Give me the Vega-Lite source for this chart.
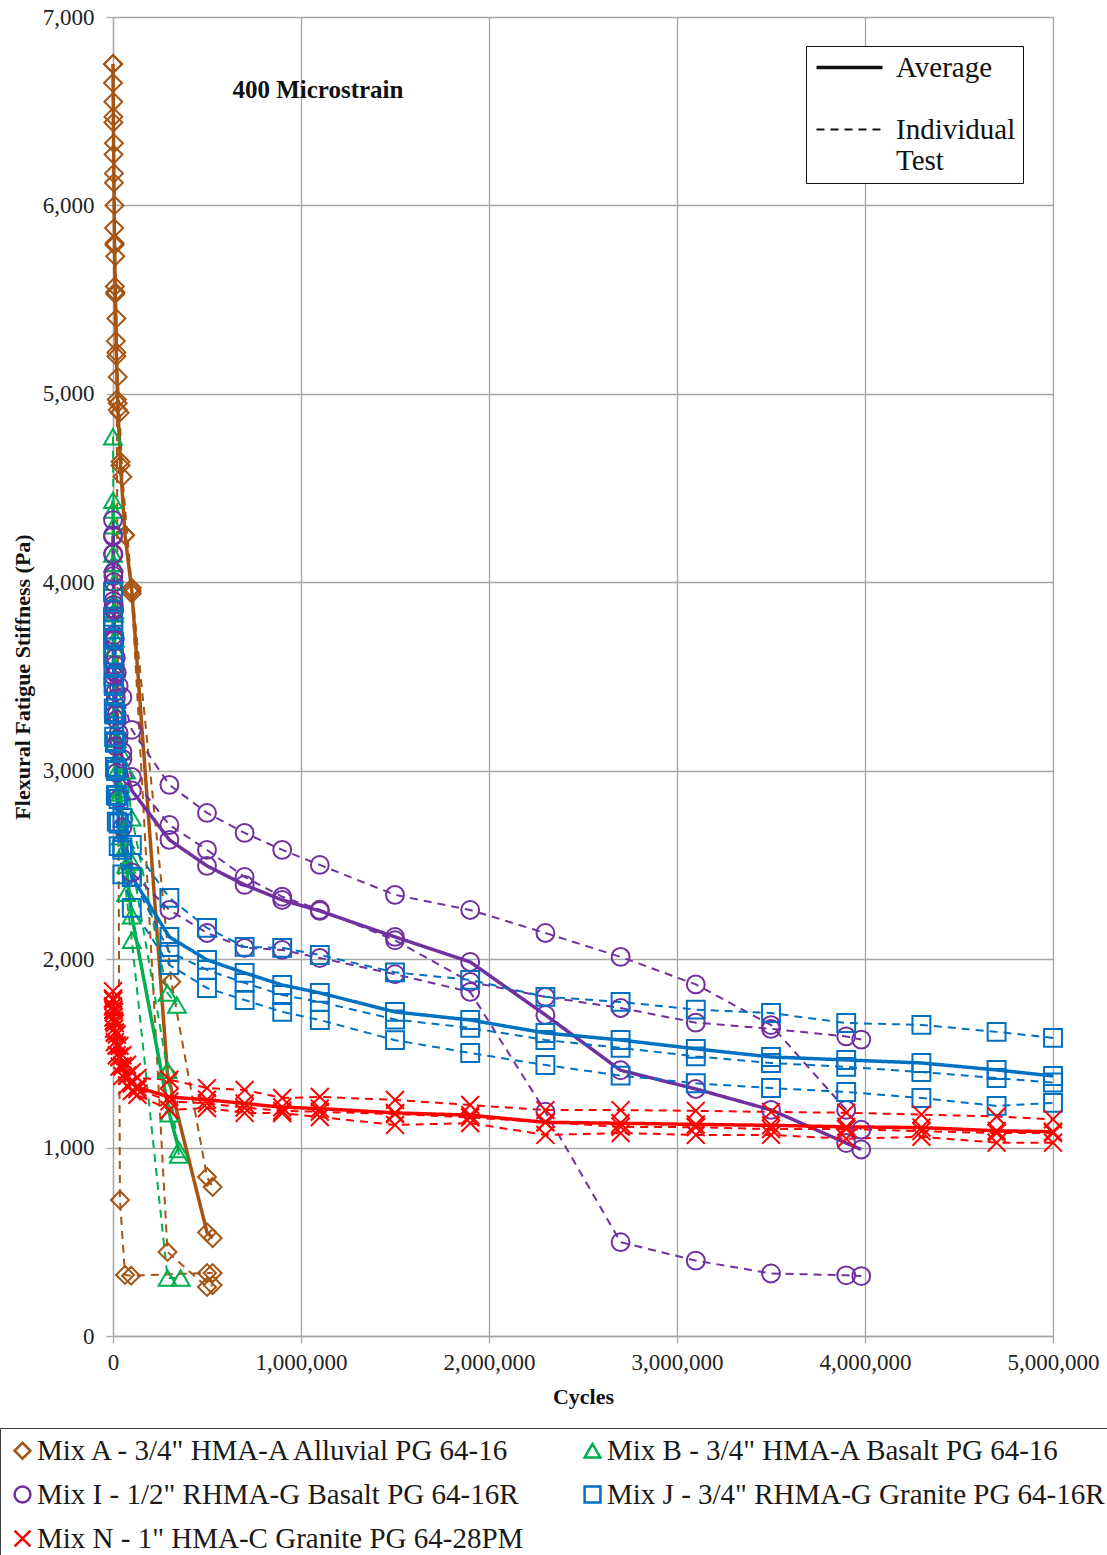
{
  "$schema": "https://vega.github.io/schema/vega-lite/v6.json",
  "width": 940,
  "height": 1319,
  "autosize": {"type": "none"},
  "padding": {"left": 113, "top": 17, "right": 54, "bottom": 219},
  "background": "white",
  "config": {
    "font": "Liberation Serif",
    "view": {"stroke": null},
    "axis": {
      "labelFont": "Liberation Serif",
      "titleFont": "Liberation Serif",
      "labelFontSize": 23,
      "labelColor": "#222222",
      "titleFontSize": 22,
      "titleFontWeight": "bold",
      "titleColor": "#111111",
      "grid": true,
      "gridColor": "#a6a6a6",
      "gridWidth": 1.3,
      "domainColor": "#a6a6a6",
      "domainWidth": 1.3,
      "tickColor": "#a6a6a6",
      "tickWidth": 1.3,
      "tickSize": 7
    },
    "legend": {"labelFont": "Liberation Serif"}
  },
  "datasets": {
    "d": [
      {"mix":"A","ser":"A1","type":"ind","x":0,"y":6650},
      {"mix":"A","ser":"A1","type":"ind","x":3000,"y":6270},
      {"mix":"A","ser":"A1","type":"ind","x":6000,"y":5880},
      {"mix":"A","ser":"A1","type":"ind","x":10000,"y":5570},
      {"mix":"A","ser":"A1","type":"ind","x":15000,"y":5280},
      {"mix":"A","ser":"A1","type":"ind","x":20000,"y":4970},
      {"mix":"A","ser":"A1","type":"ind","x":37000,"y":722},
      {"mix":"A","ser":"A1","type":"ind","x":64000,"y":324},
      {"mix":"A","ser":"A1","type":"ind","x":96000,"y":320},
      {"mix":"A","ser":"A1","type":"ind","x":500000,"y":334},
      {"mix":"A","ser":"A1","type":"ind","x":530000,"y":334},

      {"mix":"A","ser":"A2","type":"ind","x":0,"y":6750},
      {"mix":"A","ser":"A2","type":"ind","x":2000,"y":6470},
      {"mix":"A","ser":"A2","type":"ind","x":5000,"y":6170},
      {"mix":"A","ser":"A2","type":"ind","x":8000,"y":5790},
      {"mix":"A","ser":"A2","type":"ind","x":12000,"y":5530},
      {"mix":"A","ser":"A2","type":"ind","x":18000,"y":5200},
      {"mix":"A","ser":"A2","type":"ind","x":25000,"y":4915},
      {"mix":"A","ser":"A2","type":"ind","x":40000,"y":4640},
      {"mix":"A","ser":"A2","type":"ind","x":64000,"y":4250},
      {"mix":"A","ser":"A2","type":"ind","x":100000,"y":3940},
      {"mix":"A","ser":"A2","type":"ind","x":290000,"y":446},
      {"mix":"A","ser":"A2","type":"ind","x":500000,"y":260},
      {"mix":"A","ser":"A2","type":"ind","x":530000,"y":270},

      {"mix":"A","ser":"A3","type":"ind","x":0,"y":6750},
      {"mix":"A","ser":"A3","type":"ind","x":2000,"y":6550},
      {"mix":"A","ser":"A3","type":"ind","x":5000,"y":6330},
      {"mix":"A","ser":"A3","type":"ind","x":8000,"y":6000},
      {"mix":"A","ser":"A3","type":"ind","x":12000,"y":5730},
      {"mix":"A","ser":"A3","type":"ind","x":18000,"y":5400},
      {"mix":"A","ser":"A3","type":"ind","x":25000,"y":5090},
      {"mix":"A","ser":"A3","type":"ind","x":35000,"y":4900},
      {"mix":"A","ser":"A3","type":"ind","x":50000,"y":4560},
      {"mix":"A","ser":"A3","type":"ind","x":100000,"y":3970},
      {"mix":"A","ser":"A3","type":"ind","x":310000,"y":1880},
      {"mix":"A","ser":"A3","type":"ind","x":500000,"y":844},
      {"mix":"A","ser":"A3","type":"ind","x":530000,"y":791},

      {"mix":"A","ser":"Aavg","type":"avg","x":0,"y":6750},
      {"mix":"A","ser":"Aavg","type":"avg","x":2000,"y":6440},
      {"mix":"A","ser":"Aavg","type":"avg","x":5000,"y":6120},
      {"mix":"A","ser":"Aavg","type":"avg","x":8000,"y":5800},
      {"mix":"A","ser":"Aavg","type":"avg","x":12000,"y":5540},
      {"mix":"A","ser":"Aavg","type":"avg","x":18000,"y":5220},
      {"mix":"A","ser":"Aavg","type":"avg","x":25000,"y":4950},
      {"mix":"A","ser":"Aavg","type":"avg","x":40000,"y":4620},
      {"mix":"A","ser":"Aavg","type":"avg","x":64000,"y":4250},
      {"mix":"A","ser":"Aavg","type":"avg","x":100000,"y":3955},
      {"mix":"A","ser":"Aavg","type":"avg","x":290000,"y":1390},
      {"mix":"A","ser":"Aavg","type":"avg","x":500000,"y":550},
      {"mix":"A","ser":"Aavg","type":"avg","x":530000,"y":520},

      {"mix":"B","ser":"B1","type":"ind","x":0,"y":4772},
      {"mix":"B","ser":"B1","type":"ind","x":3000,"y":4300},
      {"mix":"B","ser":"B1","type":"ind","x":6000,"y":4000},
      {"mix":"B","ser":"B1","type":"ind","x":10000,"y":3700},
      {"mix":"B","ser":"B1","type":"ind","x":20000,"y":3300},
      {"mix":"B","ser":"B1","type":"ind","x":40000,"y":3100},
      {"mix":"B","ser":"B1","type":"ind","x":70000,"y":3000},
      {"mix":"B","ser":"B1","type":"ind","x":100000,"y":2750},
      {"mix":"B","ser":"B1","type":"ind","x":290000,"y":1820},
      {"mix":"B","ser":"B1","type":"ind","x":340000,"y":1757},

      {"mix":"B","ser":"B2","type":"ind","x":0,"y":4384},
      {"mix":"B","ser":"B2","type":"ind","x":3000,"y":4100},
      {"mix":"B","ser":"B2","type":"ind","x":6000,"y":3850},
      {"mix":"B","ser":"B2","type":"ind","x":10000,"y":3550},
      {"mix":"B","ser":"B2","type":"ind","x":20000,"y":3200},
      {"mix":"B","ser":"B2","type":"ind","x":40000,"y":2900},
      {"mix":"B","ser":"B2","type":"ind","x":70000,"y":2600},
      {"mix":"B","ser":"B2","type":"ind","x":100000,"y":2516},
      {"mix":"B","ser":"B2","type":"ind","x":290000,"y":1410},
      {"mix":"B","ser":"B2","type":"ind","x":350000,"y":961},

      {"mix":"B","ser":"B3","type":"ind","x":0,"y":4150},
      {"mix":"B","ser":"B3","type":"ind","x":3000,"y":3900},
      {"mix":"B","ser":"B3","type":"ind","x":6000,"y":3650},
      {"mix":"B","ser":"B3","type":"ind","x":10000,"y":3400},
      {"mix":"B","ser":"B3","type":"ind","x":20000,"y":3000},
      {"mix":"B","ser":"B3","type":"ind","x":40000,"y":2650},
      {"mix":"B","ser":"B3","type":"ind","x":70000,"y":2350},
      {"mix":"B","ser":"B3","type":"ind","x":100000,"y":2100},
      {"mix":"B","ser":"B3","type":"ind","x":290000,"y":308},
      {"mix":"B","ser":"B3","type":"ind","x":360000,"y":308},

      {"mix":"B","ser":"Bavg","type":"avg","x":0,"y":4435},
      {"mix":"B","ser":"Bavg","type":"avg","x":3000,"y":4100},
      {"mix":"B","ser":"Bavg","type":"avg","x":6000,"y":3833},
      {"mix":"B","ser":"Bavg","type":"avg","x":10000,"y":3550},
      {"mix":"B","ser":"Bavg","type":"avg","x":20000,"y":3167},
      {"mix":"B","ser":"Bavg","type":"avg","x":40000,"y":2883},
      {"mix":"B","ser":"Bavg","type":"avg","x":70000,"y":2500},
      {"mix":"B","ser":"Bavg","type":"avg","x":100000,"y":2230},
      {"mix":"B","ser":"Bavg","type":"avg","x":300000,"y":1180},
      {"mix":"B","ser":"Bavg","type":"avg","x":350000,"y":990},

      {"mix":"I","ser":"I1","type":"ind","x":0,"y":4330},
      {"mix":"I","ser":"I1","type":"ind","x":2000,"y":4150},
      {"mix":"I","ser":"I1","type":"ind","x":4000,"y":4000},
      {"mix":"I","ser":"I1","type":"ind","x":6000,"y":3850},
      {"mix":"I","ser":"I1","type":"ind","x":10000,"y":3700},
      {"mix":"I","ser":"I1","type":"ind","x":15000,"y":3600},
      {"mix":"I","ser":"I1","type":"ind","x":20000,"y":3520},
      {"mix":"I","ser":"I1","type":"ind","x":30000,"y":3450},
      {"mix":"I","ser":"I1","type":"ind","x":50000,"y":3390},
      {"mix":"I","ser":"I1","type":"ind","x":100000,"y":3217},
      {"mix":"I","ser":"I1","type":"ind","x":300000,"y":2925},
      {"mix":"I","ser":"I1","type":"ind","x":500000,"y":2776},
      {"mix":"I","ser":"I1","type":"ind","x":700000,"y":2670},
      {"mix":"I","ser":"I1","type":"ind","x":900000,"y":2580},
      {"mix":"I","ser":"I1","type":"ind","x":1100000,"y":2500},
      {"mix":"I","ser":"I1","type":"ind","x":1500000,"y":2341},
      {"mix":"I","ser":"I1","type":"ind","x":1900000,"y":2261},
      {"mix":"I","ser":"I1","type":"ind","x":2300000,"y":2139},
      {"mix":"I","ser":"I1","type":"ind","x":2700000,"y":2012},
      {"mix":"I","ser":"I1","type":"ind","x":3100000,"y":1866},
      {"mix":"I","ser":"I1","type":"ind","x":3500000,"y":1650},
      {"mix":"I","ser":"I1","type":"ind","x":3900000,"y":1200},
      {"mix":"I","ser":"I1","type":"ind","x":3980000,"y":1095},

      {"mix":"I","ser":"I2","type":"ind","x":0,"y":4250},
      {"mix":"I","ser":"I2","type":"ind","x":2000,"y":4050},
      {"mix":"I","ser":"I2","type":"ind","x":4000,"y":3880},
      {"mix":"I","ser":"I2","type":"ind","x":6000,"y":3720},
      {"mix":"I","ser":"I2","type":"ind","x":10000,"y":3560},
      {"mix":"I","ser":"I2","type":"ind","x":15000,"y":3420},
      {"mix":"I","ser":"I2","type":"ind","x":20000,"y":3300},
      {"mix":"I","ser":"I2","type":"ind","x":30000,"y":3200},
      {"mix":"I","ser":"I2","type":"ind","x":50000,"y":3100},
      {"mix":"I","ser":"I2","type":"ind","x":100000,"y":2967},
      {"mix":"I","ser":"I2","type":"ind","x":300000,"y":2712},
      {"mix":"I","ser":"I2","type":"ind","x":500000,"y":2580},
      {"mix":"I","ser":"I2","type":"ind","x":700000,"y":2436},
      {"mix":"I","ser":"I2","type":"ind","x":900000,"y":2331},
      {"mix":"I","ser":"I2","type":"ind","x":1100000,"y":2262},
      {"mix":"I","ser":"I2","type":"ind","x":1500000,"y":2100},
      {"mix":"I","ser":"I2","type":"ind","x":1900000,"y":1879},
      {"mix":"I","ser":"I2","type":"ind","x":2300000,"y":1800},
      {"mix":"I","ser":"I2","type":"ind","x":2700000,"y":1741},
      {"mix":"I","ser":"I2","type":"ind","x":3100000,"y":1663},
      {"mix":"I","ser":"I2","type":"ind","x":3500000,"y":1630},
      {"mix":"I","ser":"I2","type":"ind","x":3900000,"y":1590},
      {"mix":"I","ser":"I2","type":"ind","x":3980000,"y":1573},

      {"mix":"I","ser":"I3","type":"ind","x":0,"y":4150},
      {"mix":"I","ser":"I3","type":"ind","x":2000,"y":3900},
      {"mix":"I","ser":"I3","type":"ind","x":4000,"y":3700},
      {"mix":"I","ser":"I3","type":"ind","x":6000,"y":3500},
      {"mix":"I","ser":"I3","type":"ind","x":10000,"y":3300},
      {"mix":"I","ser":"I3","type":"ind","x":15000,"y":3130},
      {"mix":"I","ser":"I3","type":"ind","x":20000,"y":2990},
      {"mix":"I","ser":"I3","type":"ind","x":30000,"y":2850},
      {"mix":"I","ser":"I3","type":"ind","x":50000,"y":2700},
      {"mix":"I","ser":"I3","type":"ind","x":100000,"y":2460},
      {"mix":"I","ser":"I3","type":"ind","x":300000,"y":2261},
      {"mix":"I","ser":"I3","type":"ind","x":500000,"y":2139},
      {"mix":"I","ser":"I3","type":"ind","x":700000,"y":2060},
      {"mix":"I","ser":"I3","type":"ind","x":900000,"y":2049},
      {"mix":"I","ser":"I3","type":"ind","x":1100000,"y":2006},
      {"mix":"I","ser":"I3","type":"ind","x":1500000,"y":1920},
      {"mix":"I","ser":"I3","type":"ind","x":1900000,"y":1826},
      {"mix":"I","ser":"I3","type":"ind","x":2300000,"y":1190},
      {"mix":"I","ser":"I3","type":"ind","x":2700000,"y":498},
      {"mix":"I","ser":"I3","type":"ind","x":3100000,"y":400},
      {"mix":"I","ser":"I3","type":"ind","x":3500000,"y":332},
      {"mix":"I","ser":"I3","type":"ind","x":3900000,"y":322},
      {"mix":"I","ser":"I3","type":"ind","x":3980000,"y":318},

      {"mix":"I","ser":"Iavg","type":"avg","x":0,"y":4243},
      {"mix":"I","ser":"Iavg","type":"avg","x":2000,"y":4033},
      {"mix":"I","ser":"Iavg","type":"avg","x":4000,"y":3860},
      {"mix":"I","ser":"Iavg","type":"avg","x":6000,"y":3690},
      {"mix":"I","ser":"Iavg","type":"avg","x":10000,"y":3520},
      {"mix":"I","ser":"Iavg","type":"avg","x":15000,"y":3383},
      {"mix":"I","ser":"Iavg","type":"avg","x":20000,"y":3270},
      {"mix":"I","ser":"Iavg","type":"avg","x":30000,"y":3167},
      {"mix":"I","ser":"Iavg","type":"avg","x":50000,"y":3063},
      {"mix":"I","ser":"Iavg","type":"avg","x":100000,"y":2895},
      {"mix":"I","ser":"Iavg","type":"avg","x":300000,"y":2633},
      {"mix":"I","ser":"Iavg","type":"avg","x":500000,"y":2495},
      {"mix":"I","ser":"Iavg","type":"avg","x":700000,"y":2394},
      {"mix":"I","ser":"Iavg","type":"avg","x":900000,"y":2314},
      {"mix":"I","ser":"Iavg","type":"avg","x":1100000,"y":2256},
      {"mix":"I","ser":"Iavg","type":"avg","x":1500000,"y":2118},
      {"mix":"I","ser":"Iavg","type":"avg","x":1900000,"y":1985},
      {"mix":"I","ser":"Iavg","type":"avg","x":2300000,"y":1704},
      {"mix":"I","ser":"Iavg","type":"avg","x":2700000,"y":1410},
      {"mix":"I","ser":"Iavg","type":"avg","x":3100000,"y":1311},
      {"mix":"I","ser":"Iavg","type":"avg","x":3500000,"y":1200},
      {"mix":"I","ser":"Iavg","type":"avg","x":3900000,"y":1024},
      {"mix":"I","ser":"Iavg","type":"avg","x":3980000,"y":990},

      {"mix":"J","ser":"J1","type":"ind","x":0,"y":3950},
      {"mix":"J","ser":"J1","type":"ind","x":2000,"y":3750},
      {"mix":"J","ser":"J1","type":"ind","x":4000,"y":3600},
      {"mix":"J","ser":"J1","type":"ind","x":6000,"y":3450},
      {"mix":"J","ser":"J1","type":"ind","x":10000,"y":3300},
      {"mix":"J","ser":"J1","type":"ind","x":15000,"y":3150},
      {"mix":"J","ser":"J1","type":"ind","x":20000,"y":3000},
      {"mix":"J","ser":"J1","type":"ind","x":30000,"y":2850},
      {"mix":"J","ser":"J1","type":"ind","x":50000,"y":2750},
      {"mix":"J","ser":"J1","type":"ind","x":100000,"y":2606},
      {"mix":"J","ser":"J1","type":"ind","x":300000,"y":2325},
      {"mix":"J","ser":"J1","type":"ind","x":500000,"y":2166},
      {"mix":"J","ser":"J1","type":"ind","x":700000,"y":2065},
      {"mix":"J","ser":"J1","type":"ind","x":900000,"y":2060},
      {"mix":"J","ser":"J1","type":"ind","x":1100000,"y":2022},
      {"mix":"J","ser":"J1","type":"ind","x":1500000,"y":1930},
      {"mix":"J","ser":"J1","type":"ind","x":1900000,"y":1890},
      {"mix":"J","ser":"J1","type":"ind","x":2300000,"y":1800},
      {"mix":"J","ser":"J1","type":"ind","x":2700000,"y":1773},
      {"mix":"J","ser":"J1","type":"ind","x":3100000,"y":1732},
      {"mix":"J","ser":"J1","type":"ind","x":3500000,"y":1714},
      {"mix":"J","ser":"J1","type":"ind","x":3900000,"y":1661},
      {"mix":"J","ser":"J1","type":"ind","x":4300000,"y":1651},
      {"mix":"J","ser":"J1","type":"ind","x":4700000,"y":1614},
      {"mix":"J","ser":"J1","type":"ind","x":5000000,"y":1582},

      {"mix":"J","ser":"J2","type":"ind","x":0,"y":3800},
      {"mix":"J","ser":"J2","type":"ind","x":2000,"y":3600},
      {"mix":"J","ser":"J2","type":"ind","x":4000,"y":3450},
      {"mix":"J","ser":"J2","type":"ind","x":6000,"y":3300},
      {"mix":"J","ser":"J2","type":"ind","x":10000,"y":3150},
      {"mix":"J","ser":"J2","type":"ind","x":15000,"y":3000},
      {"mix":"J","ser":"J2","type":"ind","x":20000,"y":2870},
      {"mix":"J","ser":"J2","type":"ind","x":30000,"y":2720},
      {"mix":"J","ser":"J2","type":"ind","x":50000,"y":2580},
      {"mix":"J","ser":"J2","type":"ind","x":100000,"y":2436},
      {"mix":"J","ser":"J2","type":"ind","x":300000,"y":2038},
      {"mix":"J","ser":"J2","type":"ind","x":500000,"y":1943},
      {"mix":"J","ser":"J2","type":"ind","x":700000,"y":1874},
      {"mix":"J","ser":"J2","type":"ind","x":900000,"y":1810},
      {"mix":"J","ser":"J2","type":"ind","x":1100000,"y":1773},
      {"mix":"J","ser":"J2","type":"ind","x":1500000,"y":1680},
      {"mix":"J","ser":"J2","type":"ind","x":1900000,"y":1635},
      {"mix":"J","ser":"J2","type":"ind","x":2300000,"y":1571},
      {"mix":"J","ser":"J2","type":"ind","x":2700000,"y":1529},
      {"mix":"J","ser":"J2","type":"ind","x":3100000,"y":1484},
      {"mix":"J","ser":"J2","type":"ind","x":3500000,"y":1449},
      {"mix":"J","ser":"J2","type":"ind","x":3900000,"y":1428},
      {"mix":"J","ser":"J2","type":"ind","x":4300000,"y":1401},
      {"mix":"J","ser":"J2","type":"ind","x":4700000,"y":1369},
      {"mix":"J","ser":"J2","type":"ind","x":5000000,"y":1345},

      {"mix":"J","ser":"J3","type":"ind","x":0,"y":3700},
      {"mix":"J","ser":"J3","type":"ind","x":2000,"y":3500},
      {"mix":"J","ser":"J3","type":"ind","x":4000,"y":3330},
      {"mix":"J","ser":"J3","type":"ind","x":6000,"y":3180},
      {"mix":"J","ser":"J3","type":"ind","x":10000,"y":3020},
      {"mix":"J","ser":"J3","type":"ind","x":15000,"y":2870},
      {"mix":"J","ser":"J3","type":"ind","x":20000,"y":2730},
      {"mix":"J","ser":"J3","type":"ind","x":30000,"y":2600},
      {"mix":"J","ser":"J3","type":"ind","x":50000,"y":2450},
      {"mix":"J","ser":"J3","type":"ind","x":100000,"y":2272},
      {"mix":"J","ser":"J3","type":"ind","x":300000,"y":1969},
      {"mix":"J","ser":"J3","type":"ind","x":500000,"y":1847},
      {"mix":"J","ser":"J3","type":"ind","x":700000,"y":1783},
      {"mix":"J","ser":"J3","type":"ind","x":900000,"y":1720},
      {"mix":"J","ser":"J3","type":"ind","x":1100000,"y":1677},
      {"mix":"J","ser":"J3","type":"ind","x":1500000,"y":1570},
      {"mix":"J","ser":"J3","type":"ind","x":1900000,"y":1502},
      {"mix":"J","ser":"J3","type":"ind","x":2300000,"y":1438},
      {"mix":"J","ser":"J3","type":"ind","x":2700000,"y":1382},
      {"mix":"J","ser":"J3","type":"ind","x":3100000,"y":1341},
      {"mix":"J","ser":"J3","type":"ind","x":3500000,"y":1316},
      {"mix":"J","ser":"J3","type":"ind","x":3900000,"y":1295},
      {"mix":"J","ser":"J3","type":"ind","x":4300000,"y":1263},
      {"mix":"J","ser":"J3","type":"ind","x":4700000,"y":1221},
      {"mix":"J","ser":"J3","type":"ind","x":5000000,"y":1237},

      {"mix":"J","ser":"Javg","type":"avg","x":0,"y":3817},
      {"mix":"J","ser":"Javg","type":"avg","x":2000,"y":3617},
      {"mix":"J","ser":"Javg","type":"avg","x":4000,"y":3460},
      {"mix":"J","ser":"Javg","type":"avg","x":6000,"y":3310},
      {"mix":"J","ser":"Javg","type":"avg","x":10000,"y":3157},
      {"mix":"J","ser":"Javg","type":"avg","x":15000,"y":3007},
      {"mix":"J","ser":"Javg","type":"avg","x":20000,"y":2867},
      {"mix":"J","ser":"Javg","type":"avg","x":30000,"y":2723},
      {"mix":"J","ser":"Javg","type":"avg","x":50000,"y":2593},
      {"mix":"J","ser":"Javg","type":"avg","x":100000,"y":2438},
      {"mix":"J","ser":"Javg","type":"avg","x":300000,"y":2118},
      {"mix":"J","ser":"Javg","type":"avg","x":500000,"y":1996},
      {"mix":"J","ser":"Javg","type":"avg","x":700000,"y":1927},
      {"mix":"J","ser":"Javg","type":"avg","x":900000,"y":1863},
      {"mix":"J","ser":"Javg","type":"avg","x":1100000,"y":1821},
      {"mix":"J","ser":"Javg","type":"avg","x":1500000,"y":1720},
      {"mix":"J","ser":"Javg","type":"avg","x":1900000,"y":1677},
      {"mix":"J","ser":"Javg","type":"avg","x":2300000,"y":1608},
      {"mix":"J","ser":"Javg","type":"avg","x":2700000,"y":1571},
      {"mix":"J","ser":"Javg","type":"avg","x":3100000,"y":1524},
      {"mix":"J","ser":"Javg","type":"avg","x":3500000,"y":1481},
      {"mix":"J","ser":"Javg","type":"avg","x":3900000,"y":1465},
      {"mix":"J","ser":"Javg","type":"avg","x":4300000,"y":1449},
      {"mix":"J","ser":"Javg","type":"avg","x":4700000,"y":1412},
      {"mix":"J","ser":"Javg","type":"avg","x":5000000,"y":1380},

      {"mix":"N","ser":"N1","type":"ind","x":0,"y":1830},
      {"mix":"N","ser":"N1","type":"ind","x":2000,"y":1780},
      {"mix":"N","ser":"N1","type":"ind","x":5000,"y":1720},
      {"mix":"N","ser":"N1","type":"ind","x":10000,"y":1660},
      {"mix":"N","ser":"N1","type":"ind","x":20000,"y":1600},
      {"mix":"N","ser":"N1","type":"ind","x":35000,"y":1540},
      {"mix":"N","ser":"N1","type":"ind","x":50000,"y":1490},
      {"mix":"N","ser":"N1","type":"ind","x":75000,"y":1440},
      {"mix":"N","ser":"N1","type":"ind","x":100000,"y":1400},
      {"mix":"N","ser":"N1","type":"ind","x":130000,"y":1370},
      {"mix":"N","ser":"N1","type":"ind","x":300000,"y":1360},
      {"mix":"N","ser":"N1","type":"ind","x":500000,"y":1316},
      {"mix":"N","ser":"N1","type":"ind","x":700000,"y":1306},
      {"mix":"N","ser":"N1","type":"ind","x":900000,"y":1263},
      {"mix":"N","ser":"N1","type":"ind","x":1100000,"y":1269},
      {"mix":"N","ser":"N1","type":"ind","x":1500000,"y":1253},
      {"mix":"N","ser":"N1","type":"ind","x":1900000,"y":1226},
      {"mix":"N","ser":"N1","type":"ind","x":2300000,"y":1199},
      {"mix":"N","ser":"N1","type":"ind","x":2700000,"y":1199},
      {"mix":"N","ser":"N1","type":"ind","x":3100000,"y":1195},
      {"mix":"N","ser":"N1","type":"ind","x":3500000,"y":1189},
      {"mix":"N","ser":"N1","type":"ind","x":3900000,"y":1185},
      {"mix":"N","ser":"N1","type":"ind","x":4300000,"y":1175},
      {"mix":"N","ser":"N1","type":"ind","x":4700000,"y":1165},
      {"mix":"N","ser":"N1","type":"ind","x":5000000,"y":1150},

      {"mix":"N","ser":"N2","type":"ind","x":0,"y":1790},
      {"mix":"N","ser":"N2","type":"ind","x":2000,"y":1730},
      {"mix":"N","ser":"N2","type":"ind","x":5000,"y":1670},
      {"mix":"N","ser":"N2","type":"ind","x":10000,"y":1610},
      {"mix":"N","ser":"N2","type":"ind","x":20000,"y":1540},
      {"mix":"N","ser":"N2","type":"ind","x":35000,"y":1480},
      {"mix":"N","ser":"N2","type":"ind","x":50000,"y":1430},
      {"mix":"N","ser":"N2","type":"ind","x":75000,"y":1380},
      {"mix":"N","ser":"N2","type":"ind","x":100000,"y":1340},
      {"mix":"N","ser":"N2","type":"ind","x":130000,"y":1310},
      {"mix":"N","ser":"N2","type":"ind","x":300000,"y":1245},
      {"mix":"N","ser":"N2","type":"ind","x":500000,"y":1235},
      {"mix":"N","ser":"N2","type":"ind","x":700000,"y":1212},
      {"mix":"N","ser":"N2","type":"ind","x":900000,"y":1195},
      {"mix":"N","ser":"N2","type":"ind","x":1100000,"y":1190},
      {"mix":"N","ser":"N2","type":"ind","x":1500000,"y":1178},
      {"mix":"N","ser":"N2","type":"ind","x":1900000,"y":1160},
      {"mix":"N","ser":"N2","type":"ind","x":2300000,"y":1135},
      {"mix":"N","ser":"N2","type":"ind","x":2700000,"y":1110},
      {"mix":"N","ser":"N2","type":"ind","x":3100000,"y":1108},
      {"mix":"N","ser":"N2","type":"ind","x":3500000,"y":1098},
      {"mix":"N","ser":"N2","type":"ind","x":3900000,"y":1098},
      {"mix":"N","ser":"N2","type":"ind","x":4300000,"y":1087},
      {"mix":"N","ser":"N2","type":"ind","x":4700000,"y":1077},
      {"mix":"N","ser":"N2","type":"ind","x":5000000,"y":1077},

      {"mix":"N","ser":"N3","type":"ind","x":0,"y":1750},
      {"mix":"N","ser":"N3","type":"ind","x":2000,"y":1690},
      {"mix":"N","ser":"N3","type":"ind","x":5000,"y":1630},
      {"mix":"N","ser":"N3","type":"ind","x":10000,"y":1560},
      {"mix":"N","ser":"N3","type":"ind","x":20000,"y":1490},
      {"mix":"N","ser":"N3","type":"ind","x":35000,"y":1430},
      {"mix":"N","ser":"N3","type":"ind","x":50000,"y":1380},
      {"mix":"N","ser":"N3","type":"ind","x":75000,"y":1330},
      {"mix":"N","ser":"N3","type":"ind","x":100000,"y":1300},
      {"mix":"N","ser":"N3","type":"ind","x":130000,"y":1280},
      {"mix":"N","ser":"N3","type":"ind","x":300000,"y":1200},
      {"mix":"N","ser":"N3","type":"ind","x":500000,"y":1210},
      {"mix":"N","ser":"N3","type":"ind","x":700000,"y":1184},
      {"mix":"N","ser":"N3","type":"ind","x":900000,"y":1183},
      {"mix":"N","ser":"N3","type":"ind","x":1100000,"y":1162},
      {"mix":"N","ser":"N3","type":"ind","x":1500000,"y":1120},
      {"mix":"N","ser":"N3","type":"ind","x":1900000,"y":1130},
      {"mix":"N","ser":"N3","type":"ind","x":2300000,"y":1067},
      {"mix":"N","ser":"N3","type":"ind","x":2700000,"y":1077},
      {"mix":"N","ser":"N3","type":"ind","x":3100000,"y":1067},
      {"mix":"N","ser":"N3","type":"ind","x":3500000,"y":1067},
      {"mix":"N","ser":"N3","type":"ind","x":3900000,"y":1047},
      {"mix":"N","ser":"N3","type":"ind","x":4300000,"y":1057},
      {"mix":"N","ser":"N3","type":"ind","x":4700000,"y":1026},
      {"mix":"N","ser":"N3","type":"ind","x":5000000,"y":1026},

      {"mix":"N","ser":"Navg","type":"avg","x":0,"y":1790},
      {"mix":"N","ser":"Navg","type":"avg","x":2000,"y":1733},
      {"mix":"N","ser":"Navg","type":"avg","x":5000,"y":1673},
      {"mix":"N","ser":"Navg","type":"avg","x":10000,"y":1610},
      {"mix":"N","ser":"Navg","type":"avg","x":20000,"y":1543},
      {"mix":"N","ser":"Navg","type":"avg","x":35000,"y":1483},
      {"mix":"N","ser":"Navg","type":"avg","x":50000,"y":1433},
      {"mix":"N","ser":"Navg","type":"avg","x":75000,"y":1383},
      {"mix":"N","ser":"Navg","type":"avg","x":100000,"y":1347},
      {"mix":"N","ser":"Navg","type":"avg","x":130000,"y":1320},
      {"mix":"N","ser":"Navg","type":"avg","x":300000,"y":1268},
      {"mix":"N","ser":"Navg","type":"avg","x":500000,"y":1254},
      {"mix":"N","ser":"Navg","type":"avg","x":700000,"y":1234},
      {"mix":"N","ser":"Navg","type":"avg","x":900000,"y":1214},
      {"mix":"N","ser":"Navg","type":"avg","x":1100000,"y":1207},
      {"mix":"N","ser":"Navg","type":"avg","x":1500000,"y":1184},
      {"mix":"N","ser":"Navg","type":"avg","x":1900000,"y":1172},
      {"mix":"N","ser":"Navg","type":"avg","x":2300000,"y":1134},
      {"mix":"N","ser":"Navg","type":"avg","x":2700000,"y":1129},
      {"mix":"N","ser":"Navg","type":"avg","x":3100000,"y":1123},
      {"mix":"N","ser":"Navg","type":"avg","x":3500000,"y":1118},
      {"mix":"N","ser":"Navg","type":"avg","x":3900000,"y":1110},
      {"mix":"N","ser":"Navg","type":"avg","x":4300000,"y":1106},
      {"mix":"N","ser":"Navg","type":"avg","x":4700000,"y":1089},
      {"mix":"N","ser":"Navg","type":"avg","x":5000000,"y":1084}
    ]
  },
  "layer": [
    {
      "data": {"name": "d"},
      "mark": {"type": "line"},
      "encoding": {
        "x": {
          "field": "x", "type": "quantitative",
          "scale": {"domain": [0, 5000000], "nice": false},
          "axis": {"title": "Cycles", "values": [0, 1000000, 2000000, 3000000, 4000000, 5000000], "format": ",", "labelExpr": "format(datum.value, ',')", "labelPadding": 8, "titlePadding": 12, "labelFlush": false}
        },
        "y": {
          "field": "y", "type": "quantitative",
          "scale": {"domain": [0, 7000], "nice": false},
          "axis": {"title": "Flexural Fatigue Stiffness (Pa)", "values": [0, 1000, 2000, 3000, 4000, 5000, 6000, 7000], "format": ",", "labelExpr": "format(datum.value, ',')", "labelPadding": 12, "titlePadding": 8}
        },
        "color": {
          "field": "mix", "type": "nominal",
          "scale": {"domain": ["A", "B", "I", "J", "N"], "range": ["#A65413", "#00B050", "#7030A0", "#0070C0", "#FF0000"]},
          "legend": {
            "title": null, "orient": "none", "legendX": -113, "legendY": 1411,
            "direction": "horizontal", "columns": 2, "columnPadding": 54, "rowPadding": 14, "padding": 8,
            "strokeColor": "#404040",
            "labelFont": "Liberation Serif", "labelFontSize": 29, "labelColor": "#1a1a1a", "labelLimit": 800, "labelOffset": 0,
            "symbolSize": 250, "symbolStrokeWidth": 2.5, "symbolType": "circle",
            "labelExpr": "datum.label == 'A' ? 'Mix A - 3/4\" HMA-A Alluvial PG 64-16' : datum.label == 'B' ? 'Mix B - 3/4\" HMA-A Basalt PG 64-16' : datum.label == 'I' ? 'Mix I - 1/2\" RHMA-G Basalt PG 64-16R' : datum.label == 'J' ? 'Mix J - 3/4\" RHMA-G Granite PG 64-16R' : 'Mix N - 1\" HMA-C Granite PG 64-28PM'"
          }
        },
        "strokeDash": {
          "field": "type", "type": "nominal",
          "scale": {"domain": ["avg", "ind"], "range": [[1, 0], [8, 6]]},
          "legend": {
            "title": null, "orient": "none", "legendX": 693, "legendY": 29,
            "padding": 7, "strokeColor": "#111111", "fillColor": "white",
            "symbolType": "M-3,0L3,0", "symbolSize": 484, "symbolStrokeWidth": 4,
            "symbolStrokeColor": "#111111", "symbolFillColor": "transparent", "symbolOffset": 22,
            "labelFont": "Liberation Serif", "labelOffset": 32, "labelFontSize": 29, "labelColor": "#111111", "labelLimit": 300,
            "rowPadding": 32,
            "labelExpr": "datum.label == 'avg' ? 'Average' : ['Individual', 'Test']"
          }
        },
        "strokeWidth": {
          "field": "type", "type": "ordinal",
          "scale": {"domain": ["avg", "ind"], "range": [3.5, 2]},
          "legend": null
        },
        "detail": {"field": "ser"}
      }
    },
    {
      "data": {"name": "d"},
      "mark": {"type": "point", "filled": false, "opacity": 1, "size": 320, "strokeWidth": 2},
      "encoding": {
        "x": {"field": "x", "type": "quantitative"},
        "y": {"field": "y", "type": "quantitative"},
        "color": {
          "field": "mix", "type": "nominal",
          "legend": {
            "title": null, "orient": "none", "legendX": -113, "legendY": 1411,
            "direction": "horizontal", "columns": 2, "columnPadding": 54, "rowPadding": 14, "padding": 8,
            "strokeColor": "#404040",
            "labelFont": "Liberation Serif", "labelFontSize": 29, "labelColor": "#1a1a1a", "labelLimit": 800, "labelOffset": 0,
            "symbolSize": 250, "symbolStrokeWidth": 2.5,
            "labelExpr": "datum.label == 'A' ? 'Mix A - 3/4\" HMA-A Alluvial PG 64-16' : datum.label == 'B' ? 'Mix B - 3/4\" HMA-A Basalt PG 64-16' : datum.label == 'I' ? 'Mix I - 1/2\" RHMA-G Basalt PG 64-16R' : datum.label == 'J' ? 'Mix J - 3/4\" RHMA-G Granite PG 64-16R' : 'Mix N - 1\" HMA-C Granite PG 64-28PM'"
          }
        },
        "shape": {
          "field": "mix", "type": "nominal",
          "scale": {"domain": ["A", "B", "I", "J", "N"], "range": ["diamond", "triangle-up", "circle", "square", "M-1,-1L1,1M-1,1L1,-1"]},
          "legend": {
            "title": null, "orient": "none", "legendX": -113, "legendY": 1411,
            "direction": "horizontal", "columns": 2, "columnPadding": 54, "rowPadding": 14, "padding": 8,
            "strokeColor": "#404040",
            "labelFont": "Liberation Serif", "labelFontSize": 29, "labelColor": "#1a1a1a", "labelLimit": 800, "labelOffset": 0,
            "symbolSize": 250, "symbolStrokeWidth": 2.5,
            "labelExpr": "datum.label == 'A' ? 'Mix A - 3/4\" HMA-A Alluvial PG 64-16' : datum.label == 'B' ? 'Mix B - 3/4\" HMA-A Basalt PG 64-16' : datum.label == 'I' ? 'Mix I - 1/2\" RHMA-G Basalt PG 64-16R' : datum.label == 'J' ? 'Mix J - 3/4\" RHMA-G Granite PG 64-16R' : 'Mix N - 1\" HMA-C Granite PG 64-28PM'"
          }
        }
      }
    },
    {
      "data": {"values": [{}]},
      "mark": {"type": "text", "font": "Liberation Serif", "fontSize": 25, "fontWeight": "bold", "color": "#111111"},
      "encoding": {
        "x": {"datum": 1090000, "type": "quantitative"},
        "y": {"datum": 6610, "type": "quantitative"},
        "text": {"value": "400 Microstrain"}
      }
    }
  ]
}
